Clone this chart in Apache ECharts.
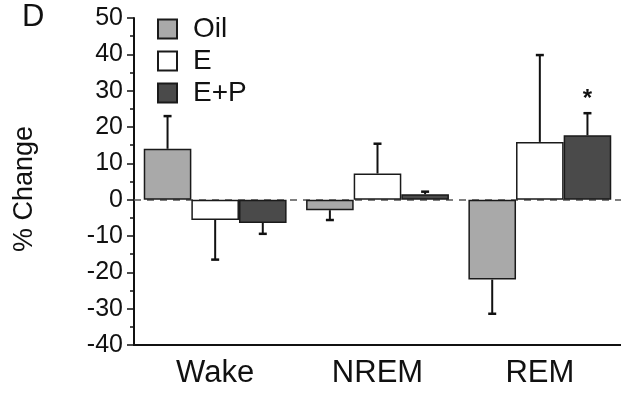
<!DOCTYPE html>
<html>
<head>
<meta charset="utf-8">
<script src="https://cdn.jsdelivr.net/npm/echarts@6/dist/echarts.min.js"></script>
<style>html,body{margin:0;padding:0;background:#fff}#c{width:621px;height:402px}</style>
</head>
<body>
<div id="c"></div>
<script>
var categories = ['Wake', 'NREM', 'REM'];
var seriesNames = ['Oil', 'E', 'E+P'];
var oilValues = [14, -2.9, -22];
var oilErrors = [9, 2.7, 9.4];
var eValues = [-5.6, 7.2, 15.9];
var eErrors = [10.9, 8.2, 23.9];
var epValues = [-6.4, 1.5, 17.7];
var epErrors = [3, 0.7, 6.1];
var epSignif = ['', '', '*'];
var yTicks = [-40, -30, -20, -10, 0, 10, 20, 30, 40, 50];

var colors = ['#a9a9a9', '#ffffff', '#4a4a4a'];
var allValues = [oilValues, eValues, epValues];
var allErrors = [oilErrors, eErrors, epErrors];
var allSig = [['', '', ''], ['', '', ''], epSignif];
var GAP = 0.12;
var font = 'Liberation Sans, Arial, sans-serif';

var chart = echarts.init(document.getElementById('c'), null, {renderer: 'canvas'});

var series = [];
seriesNames.forEach(function (name, i) {
  var s = {
    name: name,
    type: 'bar',
    data: allValues[i],
    barGap: '0%',
    barCategoryGap: (GAP * 100) + '%',
    itemStyle: {color: colors[i], borderColor: '#1a1a1a', borderWidth: 1.5},
    z: 2
  };
  if (i === 0) {
    s.markLine = {
      silent: true,
      symbol: 'none',
      label: {show: false},
      lineStyle: {color: '#555', type: [7, 6], width: 1.5},
      data: [{yAxis: 0}],
      z: 1
    };
  }
  series.push(s);
});
seriesNames.forEach(function (name, i) {
  var data = allValues[i].map(function (v, k) { return [k, v, allErrors[i][k]]; });
  series.push({
    type: 'custom',
    silent: true,
    z: 5,
    data: data,
    renderItem: function (params, api) {
      var k = api.value(0), v = api.value(1), e = api.value(2);
      var band = api.size([1, 0])[0];
      var bw = band * (1 - GAP) / 3;
      var base = api.coord([k, v]);
      var x = base[0] + (i - 1) * bw;
      var tip = api.coord([k, v + (v >= 0 ? e : -e)]);
      var st = {stroke: '#111', lineWidth: 2};
      var children = [
        {type: 'line', shape: {x1: x, y1: base[1], x2: x, y2: tip[1]}, style: st},
        {type: 'line', shape: {x1: x - 4, y1: tip[1], x2: x + 4, y2: tip[1]}, style: {stroke: '#111', lineWidth: 2.5}}
      ];
      var sig = allSig[i][k];
      if (sig) {
        children.push({type: 'text', style: {text: sig, x: x, y: tip[1] - 14, align: 'center', verticalAlign: 'middle', font: 'bold 24px ' + font, fill: '#111'}});
      }
      return {type: 'group', children: children};
    }
  });
});

chart.setOption({
  animation: false,
  backgroundColor: '#fff',
  title: {text: 'D', left: 17, top: -3, textStyle: {fontFamily: font, fontSize: 31, fontWeight: 'normal', color: '#111'}},
  legend: {
    data: seriesNames,
    orient: 'vertical',
    left: 157, top: 15, padding: 0,
    itemWidth: 19, itemHeight: 19, itemGap: 4,
    icon: 'rect',
    textStyle: {fontFamily: font, fontSize: 28, color: '#111', padding: [0, 0, 0, 11]}
  },
  graphic: [{
    type: 'text',
    left: 11, top: 126,
    rotation: Math.PI / 2,
    style: {text: '% Change', font: '27px ' + font, fill: '#111'}
  }],
  grid: {left: 134, right: -2, top: 18, bottom: 57, containLabel: false},
  xAxis: {
    type: 'category',
    data: categories,
    axisLine: {onZero: false, lineStyle: {color: '#111', width: 2}},
    axisTick: {alignWithLabel: true, length: 4, lineStyle: {color: '#111', width: 1.5}},
    axisLabel: {fontFamily: font, fontSize: 31, color: '#111', margin: 13}
  },
  yAxis: {
    type: 'value',
    min: yTicks[0], max: yTicks[yTicks.length - 1], interval: 10,
    splitLine: {show: false},
    axisLine: {show: true, lineStyle: {color: '#111', width: 2}},
    axisTick: {show: true, length: 7, lineStyle: {color: '#111', width: 1.5}},
    minorTick: {show: true, splitNumber: 2, length: 4, lineStyle: {color: '#111', width: 1.5}},
    axisLabel: {fontFamily: font, fontSize: 25, color: '#111', margin: 11}
  },
  series: series
});
</script>
</body>
</html>
